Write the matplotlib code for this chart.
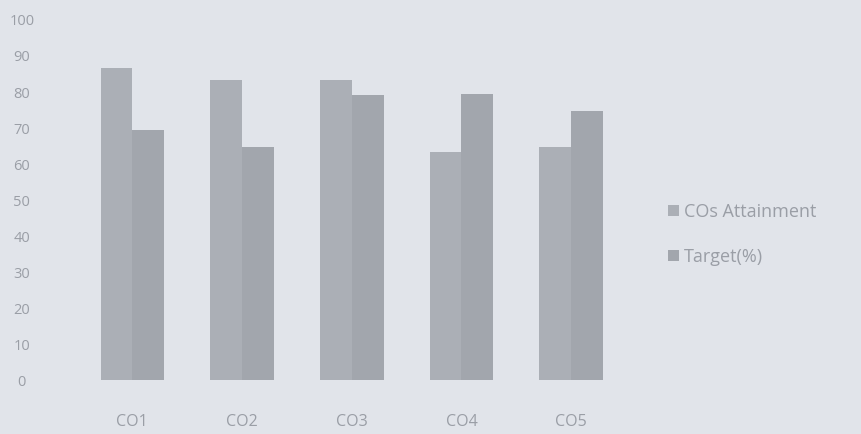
import matplotlib.pyplot as plt
import numpy as np

# ---- data
categories = ["CO1", "CO2", "CO3", "CO4", "CO5"]
attainment = [86.7, 83.3, 83.3, 63.3, 64.7]
target = [69.4, 64.7, 79.2, 79.4, 74.7]
series_names = ["COs Attainment", "Target(%)"]

BG = "#e1e4ea"
TXT = "#9a9ea6"

plt.rcParams["font.family"] = ["Open Sans", "DejaVu Sans"]

fig = plt.figure(figsize=(8.61, 4.34), dpi=100, facecolor=BG)
ax = fig.add_axes([0.09, 0.124, 0.637, 0.830], facecolor=BG)

x = np.arange(len(categories))
w = 0.29
ax.bar(x - w / 2, attainment, w, color="#abafb6", label=series_names[0])
ax.bar(x + w / 2, target, w, color="#a2a6ad", label=series_names[1])

ax.set_xlim(-0.5, len(categories) - 0.5)
ax.set_ylim(0, 100)
ax.set_yticks(np.arange(0, 101, 10))
ax.set_xticks(x)
ax.set_xticklabels(categories)
for s in ax.spines.values():
    s.set_visible(False)
ax.tick_params(axis="both", length=0, colors=TXT, labelsize=10.5)
ax.tick_params(axis="x", pad=24, labelsize=11.5)
ax.tick_params(axis="y", pad=40)
for t in ax.get_yticklabels():
    t.set_horizontalalignment("center")

leg = fig.legend(loc="upper left", bbox_to_anchor=(0.757, 0.57), frameon=False,
                 handlelength=0.6, handleheight=0.6, handletextpad=0.3,
                 labelspacing=1.5, fontsize=13, labelcolor=TXT)

fig.savefig("out.png", dpi=100, facecolor=BG)
